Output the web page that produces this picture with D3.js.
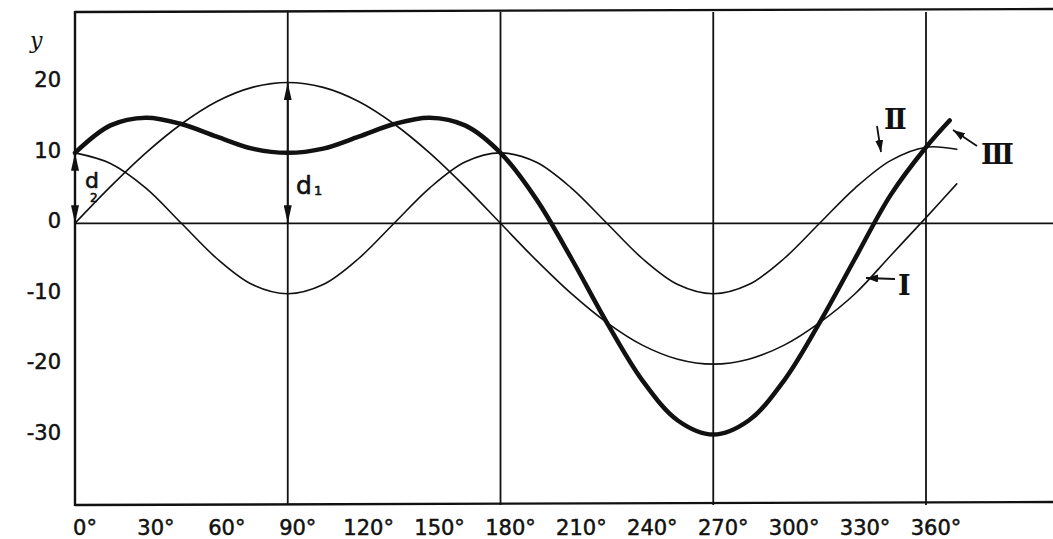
<!DOCTYPE html>
<html>
<head>
<meta charset="utf-8">
<script src="https://cdn.jsdelivr.net/npm/d3@7"></script>
<style>
  body { margin: 0; background: #fff; }
  svg { display: block; }
  .tick-label { font-family: 'DejaVu Sans', sans-serif; font-size: 21px; fill: #111; stroke: #111; stroke-width: 0.5px; }
  .roman { font-family: 'DejaVu Serif', serif; font-weight: bold; font-size: 27px; fill: #111; }
  .hand { font-family: 'DejaVu Sans', sans-serif; fill: #111; stroke: #111; stroke-width: 0.6px; }
</style>
</head>
<body>
<div id="chart"></div>
<script>
// angles (degrees), one sample every 15 deg
const angles = [0, 15, 30, 45, 60, 75, 90, 105, 120, 135, 150, 165, 180,
  195, 210, 225, 240, 255, 270, 285, 300, 315, 330, 345, 360]

// curve I (thin, big sine)
const curveI = [0, 5.2, 10, 14.1, 17.3, 19.3, 20, 19.3, 17.3, 14.1, 10, 5.2, 0,
  -5.2, -10, -14.1, -17.3, -19.3, -20, -19.3, -17.3, -14.1, -10, -4.6, 0.8]
// curve II (thin, double frequency)
const curveII = [10, 8.5, 5, 0, -5, -8.7, -10, -8.7, -5, 0, 5, 8.7, 10,
  8.7, 5, 0, -5, -8.7, -10, -8.7, -5, 0, 5, 8.9, 10.8]
// curve III (thick, the sum)
const curveIII = [10, 13.9, 15, 14.1, 12.3, 10.6, 10, 10.6, 12.3, 14.1, 15, 13.9, 10,
  3.5, -5, -14.1, -22.3, -28, -30, -28, -22.3, -14.1, -5, 4, 10.8]
// where each curve stops past 360 deg
const tailAngles = [373, 373, 370]
const tailValues = [5.6, 10.5, 14.6]

const xTicks = [0, 30, 60, 90, 120, 150, 180, 210, 240, 270, 300, 330, 360]
const yTicks = [20, 10, 0, -10, -20, -30]
const gridAngles = [90, 180, 270, 360]

const W = 1053
const H = 539

const x = d3.scaleLinear().domain([0, 360]).range([75, 926])
const y = d3.scaleLinear().domain([-40, 30]).range([505, 12])

const svg = d3.select('#chart').append('svg')
  .attr('width', W)
  .attr('height', H)

const defs = svg.append('defs')
defs.append('marker')
  .attr('id', 'head')
  .attr('markerUnits', 'userSpaceOnUse')
  .attr('viewBox', '0 0 18 8')
  .attr('refX', 18)
  .attr('refY', 4)
  .attr('markerWidth', 18)
  .attr('markerHeight', 8)
  .attr('orient', 'auto')
  .append('path')
  .attr('d', 'M0,0 L18,4 L0,8 Z')
  .attr('fill', '#111')

defs.append('marker')
  .attr('id', 'small')
  .attr('markerUnits', 'userSpaceOnUse')
  .attr('viewBox', '0 0 12 8')
  .attr('refX', 12)
  .attr('refY', 4)
  .attr('markerWidth', 12)
  .attr('markerHeight', 8)
  .attr('orient', 'auto')
  .append('path')
  .attr('d', 'M0,0 L12,4 L0,8 Z')
  .attr('fill', '#111')

// frame: left, top, bottom run off the right edge
const frame = svg.append('g').attr('stroke', '#111').attr('stroke-width', 2.4).attr('fill', 'none')
frame.append('line').attr('x1', x(0)).attr('x2', x(0)).attr('y1', y(30) - 1).attr('y2', y(-40) + 1)
frame.append('line').attr('x1', x(0)).attr('x2', W).attr('y1', y(30)).attr('y2', y(30) - 3)
frame.append('line').attr('x1', x(0)).attr('x2', W).attr('y1', y(-40)).attr('y2', y(-40) - 3)

// grid
const grid = svg.append('g').attr('stroke', '#111').attr('stroke-width', 1.8)
grid.selectAll('line.v')
  .data(gridAngles)
  .enter().append('line')
  .attr('class', 'v')
  .attr('x1', d => x(d)).attr('x2', d => x(d))
  .attr('y1', y(30)).attr('y2', y(-40))
grid.append('line')
  .attr('x1', x(0)).attr('x2', W)
  .attr('y1', y(0)).attr('y2', y(0))

// tick labels
svg.append('g').selectAll('text')
  .data(xTicks)
  .enter().append('text')
  .attr('class', 'tick-label')
  .attr('x', d => x(d) + 10)
  .attr('y', 535)
  .attr('text-anchor', 'middle')
  .text(d => d + '°')

svg.append('g').selectAll('text')
  .data(yTicks)
  .enter().append('text')
  .attr('class', 'tick-label')
  .attr('x', 61)
  .attr('y', d => y(d) + 5)
  .attr('text-anchor', 'end')
  .text(d => d < 0 ? '-' + Math.abs(d) : d)

svg.append('text')
  .attr('x', 30)
  .attr('y', 48)
  .attr('font-family', 'DejaVu Serif, serif')
  .attr('font-style', 'italic')
  .attr('font-size', 22)
  .attr('fill', '#111')
  .text('y')

// curves
const line = d3.line()
  .x(d => x(d[0]))
  .y(d => y(d[1]))
  .curve(d3.curveCatmullRom)

const series = [curveI, curveII, curveIII].map((vals, i) => {
  const pts = angles.map((a, j) => [a, vals[j]])
  pts.push([tailAngles[i], tailValues[i]])
  return pts
})
const widths = [1.6, 1.6, 4.5]

svg.append('g').selectAll('path')
  .data(series)
  .enter().append('path')
  .attr('d', line)
  .attr('fill', 'none')
  .attr('stroke', '#111')
  .attr('stroke-width', (d, i) => widths[i])
  .attr('stroke-linecap', 'round')

// d1 and d2 measuring arrows
const arrows = svg.append('g').attr('stroke', '#111').attr('stroke-width', 1.8)
arrows.append('line')
  .attr('x1', x(90)).attr('x2', x(90))
  .attr('y1', (y(0) + y(20)) / 2).attr('y2', y(20))
  .attr('marker-end', 'url(#head)')
arrows.append('line')
  .attr('x1', x(90)).attr('x2', x(90))
  .attr('y1', (y(0) + y(20)) / 2).attr('y2', y(0))
  .attr('marker-end', 'url(#head)')
arrows.append('line')
  .attr('x1', x(0)).attr('x2', x(0))
  .attr('y1', (y(0) + y(10)) / 2).attr('y2', y(10))
  .attr('marker-end', 'url(#head)')
arrows.append('line')
  .attr('x1', x(0)).attr('x2', x(0))
  .attr('y1', (y(0) + y(10)) / 2).attr('y2', y(0))
  .attr('marker-end', 'url(#head)')

svg.append('text').attr('class', 'hand').attr('x', 296).attr('y', 194).attr('font-size', 25).text('d')
svg.append('text').attr('class', 'hand').attr('x', 314).attr('y', 195).attr('font-size', 13).text('1')
svg.append('text').attr('class', 'hand').attr('x', 85).attr('y', 188).attr('font-size', 22).text('d')
svg.append('text').attr('class', 'hand').attr('x', 90).attr('y', 202).attr('font-size', 12).text('2')

// curve labels with pointers
const pointers = svg.append('g').attr('stroke', '#111').attr('stroke-width', 1.8)
pointers.append('line').attr('x1', 877).attr('y1', 126).attr('x2', 881).attr('y2', 152).attr('marker-end', 'url(#small)')
pointers.append('line').attr('x1', 977).attr('y1', 146).attr('x2', 953).attr('y2', 130).attr('marker-end', 'url(#small)')
pointers.append('line').attr('x1', 895).attr('y1', 279).attr('x2', 866).attr('y2', 278).attr('marker-end', 'url(#small)')

svg.append('text').attr('class', 'roman').attr('x', 884).attr('y', 129).text('Ⅱ')
svg.append('text').attr('class', 'roman').attr('x', 981).attr('y', 164).text('Ⅲ')
svg.append('text').attr('class', 'roman').attr('x', 898).attr('y', 295).text('Ⅰ')
</script>
</body>
</html>
